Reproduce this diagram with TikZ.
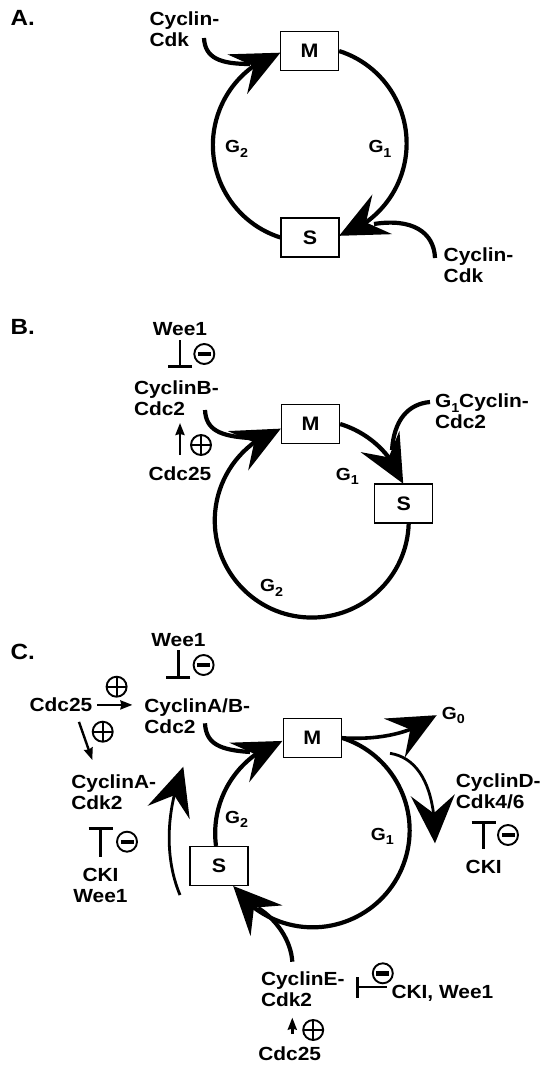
\documentclass[tikz,border=0pt]{standalone}
\usepackage{fontspec}
\setmainfont{Liberation Sans}[FakeStretch=1.1]
\usetikzlibrary{arrows.meta,bending}
\newcommand{\sbs}[1]{\raisebox{-4.5pt}{\fontsize{13}{13}\selectfont #1}}
\begin{document}
\begin{tikzpicture}[x=1pt,y=-1pt,
  txt/.style={font=\fontsize{19}{21}\selectfont\bfseries, inner sep=0pt, outer sep=0pt},
  lbl/.style={txt, align=left},
  lblc/.style={txt, align=center},
  panel/.style={font=\fontsize{22}{24}\selectfont\bfseries, inner sep=0pt, anchor=base west},
  phaselbl/.style={font=\fontsize{17.5}{19}\selectfont\bfseries, inner sep=0pt, anchor=base west},
  box/.style={draw, line width=1.2pt, fill=white, minimum width=58pt, minimum height=39pt, inner sep=0pt, font=\fontsize{19.5}{21}\selectfont\bfseries},
  cyc/.style={line width=4.2pt},
  bigtip/.style={-{Stealth[length=48pt, width=44pt, inset=18pt]}},
  thinarr/.style={line width=2.8pt},
  smallarr/.style={line width=2.4pt, -{Stealth[length=12pt, width=9pt, inset=1pt]}},
  inhib/.style={line width=2.6pt, -{Bar[width=24pt, line width=3pt]}},
  plusc/.style={circle, draw, line width=1.9pt, minimum size=20pt, inner sep=0pt,
    path picture={\draw[line width=2.2pt] (path picture bounding box.west) -- (path picture bounding box.east)
      (path picture bounding box.north) -- (path picture bounding box.south);}},
  minusc/.style={circle, draw, line width=1.9pt, minimum size=20pt, inner sep=0pt,
    path picture={\fill ([xshift=-6.5pt,yshift=-2.2pt]path picture bounding box.center) rectangle ([xshift=6.5pt,yshift=2.2pt]path picture bounding box.center);}},
]
\fill[white] (0,0) rectangle (543,1067);
\useasboundingbox (0,0) rectangle (543,1067);

% ---------------- Panel A ----------------
\node[panel] (labA) at (10.4,26) {A.};
\node[box] (Ma) at (309.5,51) {M};
\node[box] (Sa) at (310,237.5) {S};
\node[lbl, anchor=north west] (ccA1) at (149.6,11.7) {Cyclin-\\Cdk};
\node[lbl, anchor=north west] (ccA2) at (443.7,248) {Cyclin-\\Cdk};
\node[phaselbl] (g2A) at (225,153) {G\sbs{2}};
\node[phaselbl] (g1A) at (368.3,153) {G\sbs{1}};
\draw[cyc,bigtip] (Ma.east) arc[start angle=72.3, end angle=-72.3, radius=97pt];
\draw[cyc,bigtip] (Sa.west) arc[start angle=252.3, end angle=107.7, radius=97pt];
\coordinate (a1s) at (204,38);
\coordinate (a1e) at (250,64);
\draw[cyc] (a1s) .. controls (205,58) and (220,64) .. (a1e);
\coordinate (a2s) at (435,258);
\coordinate (a2e) at (374,224);
\draw[cyc] (a2s) .. controls (434,232) and (412,218) .. (a2e);

% ---------------- Panel B ----------------
\node[panel] (labB) at (10.4,334) {B.};
\node[box] (Mb) at (310.5,424) {M};
\node[box] (Sb) at (403.7,503.5) {S};
\node[lblc, anchor=base] (weeB) at (180,335) {Wee1};
\node[lbl, anchor=north west] (cyB) at (134,381) {CyclinB-\\Cdc2};
\node[lblc, anchor=base] (cdcB) at (180,480) {Cdc25};
\node[lbl, anchor=north west] (g1cyB) at (435,393.3) {G\raisebox{-5pt}{\fontsize{13}{13}\selectfont 1}Cyclin-\\Cdc2};
\node[phaselbl] (g1B) at (335.7,480) {G\sbs{1}};
\node[phaselbl] (g2B) at (260,591.7) {G\sbs{2}};
\node[minusc] (mB) at (204.3,354) {};
\node[plusc] (pB) at (201,445) {};
\draw[inhib, shorten <=5pt, shorten >=12.7pt] (weeB.south) -- (weeB.south |- cyB.north);
\draw[smallarr, shorten <=11pt, shorten >=7pt] (cdcB.north) -- (cdcB.north |- cyB.south);
\draw[cyc,bigtip] (Mb.east) arc[start angle=73.2, end angle=20, radius=97pt];
\draw[cyc,bigtip] ([xshift=5pt]Sb.south) arc[start angle=-1.8, end angle=-251.4, radius=97pt];
\coordinate (b1s) at (205,410);
\coordinate (b1e) at (249,438);
\draw[cyc] (b1s) .. controls (206,430) and (220,436) .. (b1e);
\coordinate (b2s) at (430,402);
\coordinate (b2e) at (392,450);
\draw[cyc] (b2s) .. controls (408,404) and (394,420) .. (b2e);

% ---------------- Panel C ----------------
\node[panel] (labC) at (10.4,659) {C.};
\node[box] (Mc) at (312.2,737.8) {M};
\node[box] (Sc) at (219,866) {S};
\node[lblc, anchor=base] (weeC) at (178.4,646) {Wee1};
\node[lbl, anchor=north west] (cyAB) at (144.4,698.3) {CyclinA/B-\\Cdc2};
\node[lbl, anchor=base west] (cdcC) at (29.6,711.7) {Cdc25};
\node[lbl, anchor=north west] (cyA) at (71.3,775) {CyclinA-\\Cdk2};
\node[lblc, anchor=north] (cki1) at (100.5,868.3) {CKI\\Wee1};
\node[phaselbl] (g2C) at (225,823.3) {G\sbs{2}};
\node[phaselbl] (g1C) at (370.7,840) {G\sbs{1}};
\node[font=\fontsize{17.5}{19}\selectfont\bfseries, inner sep=0pt, anchor=base west] (g0C) at (441.7,719) {G\sbs{0}};
\node[lbl, anchor=north west] (cyD) at (455.9,773.3) {CyclinD-\\Cdk4/6};
\node[lblc, anchor=base] (cki2) at (483.7,873.3) {CKI};
\node[lbl, anchor=north west] (cyE) at (261,971.7) {CyclinE-\\Cdk2};
\node[lbl, anchor=base west] (ckiW) at (391.5,998.3) {CKI, Wee1};
\node[lblc, anchor=base] (cdcC3) at (289.7,1060) {Cdc25};

\node[minusc] (mC1) at (203.6,665) {};
\node[plusc] (pC1) at (116.6,686.7) {};
\node[plusc] (pC2) at (102.7,731.7) {};
\node[minusc] (mC2) at (127,841.7) {};
\node[minusc] (mC3) at (508,835) {};
\node[minusc] (mC4) at (382.8,973.3) {};
\node[plusc] (pC3) at (313.2,1030) {};

% regulators
\draw[inhib, shorten <=4pt, shorten >=19pt] (weeC.south) -- (weeC.south |- cyAB.north);
\draw[smallarr, shorten <=5pt, shorten >=12pt] (cdcC.east) -- (cdcC.east -| cyAB.west);
\draw[smallarr] ([xshift=18pt,yshift=-10pt]cdcC.south) -- ([xshift=21pt,yshift=15pt]cyA.north west);
\draw[inhib, shorten <=11.6pt, shorten >=16.7pt] (cki1.north) -- (cki1.north |- cyA.south);
\draw[inhib, shorten <=11.4pt, shorten >=12.5pt] (cki2.north) -- (cki2.north |- cyD.south);
\coordinate (w1) at ([yshift=6pt]ckiW.west);
\draw[line width=2.6pt, -{Bar[width=21pt, line width=3pt]}, shorten <=5pt, shorten >=10.9pt] (w1) -- (w1 -| cyE.east);
\coordinate (u1) at ([xshift=2.6pt]cdcC3.north);
\draw[smallarr, shorten <=12pt, shorten >=11pt] (u1) -- (u1 |- cyE.south);

% cycle
\draw[cyc,bigtip] ([xshift=-3pt]Sc.north) arc[start angle=187.5, end angle=107.9, radius=97pt];
\draw[cyc,bigtip] (Mc.east) arc[start angle=72.5, end angle=-145, radius=97pt];
\coordinate (c1s) at (205,723.3);
\coordinate (c1e) at (250,752);
\draw[cyc] (c1s) .. controls (206,744) and (220,750) .. (c1e);
\coordinate (c2s) at (292.3,961.7);
\coordinate (c2e) at (258,908);
\draw[cyc] (c2s) .. controls (291,940) and (276,919) .. (c2e);
\draw[line width=3.6pt,bigtip] (Mc.east) .. controls (375,740) and (410,735) .. ([xshift=-5pt]g0C.west);
\coordinate (d1s) at (390,753.3);
\coordinate (d1e) at (435,843.3);
\draw[thinarr,bigtip] (d1s) .. controls (420,758) and (436,790) .. (d1e);
\coordinate (e1s) at (180,895);
\coordinate (e1e) at (183.3,766.7);
\draw[thinarr,bigtip] (e1s) .. controls (166,862) and (164,815) .. (e1e);
\end{tikzpicture}
\end{document}
